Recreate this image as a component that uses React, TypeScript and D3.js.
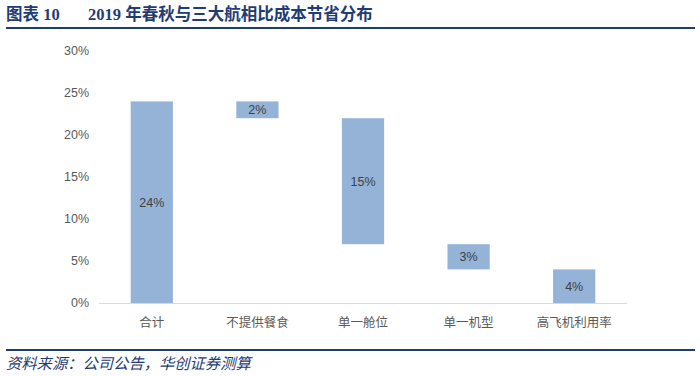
import React from "react";
import * as d3 from "d3";

const categories = ["合计", "不提供餐食", "单一舱位", "单一机型", "高飞机利用率"];
const barBase = [0, 22, 7, 4, 0];
const barValue = [24, 2, 15, 3, 4];
const yTicks = [0, 5, 10, 15, 20, 25, 30];

const W = 700;
const H = 376;
const M = { left: 99, right: 73, top: 51, bottom: 73 };

export default function App() {
  const x = d3
    .scaleBand<string>()
    .domain(categories)
    .range([M.left, W - M.right])
    .paddingInner(0.6)
    .paddingOuter(0.3);
  const y = d3.scaleLinear().domain([0, 30]).range([H - M.bottom, M.top]);
  const navy = "#1F3C74";
  const grey = "#595959";
  const sans = "'Liberation Sans', Arial, 'Noto Sans CJK SC', sans-serif";
  return (
    <svg
      width={W}
      height={H}
      style={{ position: "absolute", left: 0, top: 0, background: "#fff" }}
    >
      <text
        x={6}
        y={20}
        fill={navy}
        fontSize={16.5}
        fontWeight="bold"
        fontFamily="'Liberation Serif', 'Noto Sans CJK SC', serif"
      >
        <tspan>图表 10</tspan>
        <tspan x={88}>2019 年春秋与三大航相比成本节省分布</tspan>
      </text>
      <line x1={6} x2={695} y1={28} y2={28} stroke={navy} strokeWidth={2} />

      {yTicks.map((t) => (
        <text
          key={t}
          x={89}
          y={y(t)}
          dy="0.35em"
          textAnchor="end"
          fontSize={12.5}
          fill={grey}
          fontFamily={sans}
        >
          {t}%
        </text>
      ))}

      {categories.map((c, i) => {
        const y0 = y(barBase[i]);
        const y1 = y(barBase[i] + barValue[i]);
        const bx = x(c)!;
        return (
          <g key={c}>
            <rect x={bx} y={y1} width={x.bandwidth()} height={y0 - y1} fill="#95B3D7" />
            <text
              x={bx + x.bandwidth() / 2}
              y={(y0 + y1) / 2}
              dy="0.35em"
              textAnchor="middle"
              fontSize={12.5}
              fill="#404040"
              fontFamily={sans}
            >
              {barValue[i]}%
            </text>
            <text
              x={bx + x.bandwidth() / 2}
              y={y(0) + 20}
              dy="0.35em"
              textAnchor="middle"
              fontSize={12.5}
              fill={grey}
              fontFamily={sans}
            >
              {c}
            </text>
          </g>
        );
      })}
      <line
        x1={M.left}
        x2={W - M.right}
        y1={y(0) + 0.5}
        y2={y(0) + 0.5}
        stroke="#D9D9D9"
        strokeWidth={1}
      />

      <line x1={6} x2={695} y1={350} y2={350} stroke={navy} strokeWidth={2} />
      <text
        x={6}
        y={369}
        fill={navy}
        fontSize={15.3}
        fontStyle="italic"
        fontFamily="'Noto Sans CJK SC', sans-serif"
      >
        资料来源：公司公告，华创证券测算
      </text>
    </svg>
  );
}
